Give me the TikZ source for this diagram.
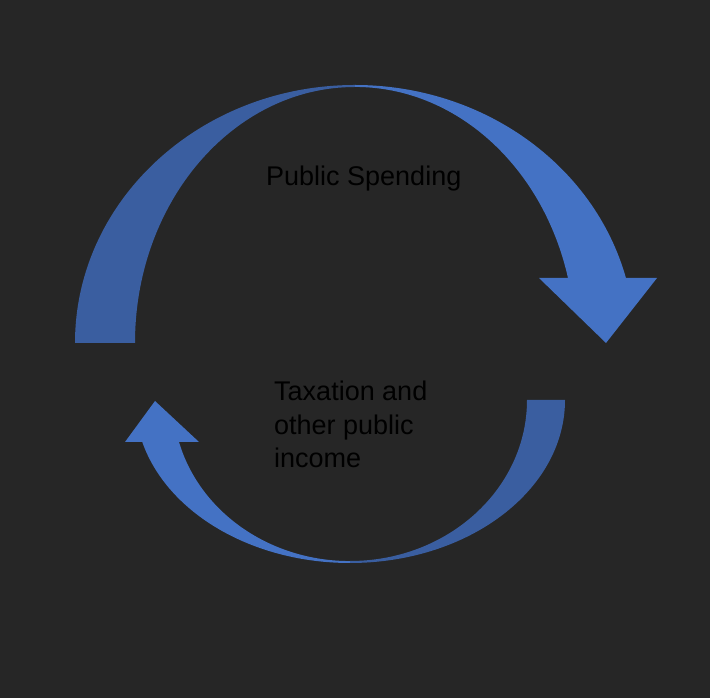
\documentclass[tikz,border=0pt]{standalone}
\usepackage{fontspec}
\setmainfont{Liberation Sans}
\usetikzlibrary{positioning}
\definecolor{bgdark}{RGB}{38,38,38}
\definecolor{bandback}{RGB}{58,94,160}
\definecolor{bandfront}{RGB}{68,114,196}

\begin{document}
\begin{tikzpicture}[x=1pt, y=1pt,
	back/.style={fill=bandback, draw=none},
	front/.style={fill=bandfront, draw=none},
	caption/.style={align=left, inner sep=0pt, text=black, font=\fontsize{27}{33.5}\selectfont}]
	\fill[bgdark] (0,0) rectangle (710,698);
	\useasboundingbox (0,0) rectangle (710,698);
	
	% upper arrow
	\coordinate (top) at (355,355);
	\fill[back] (75,355) arc[start angle=180, end angle=90, x radius=280pt, y radius=258pt]
		-- (355,611) arc[start angle=90, end angle=180, x radius=220pt, y radius=256pt] -- cycle;
	\fill[front] (355,613) arc[start angle=90, end angle=14.6, x radius=280pt, y radius=258pt]
		-- (657,420) -- (606,355) -- (539,420) -- (568,420)
		arc[start angle=14.7, end angle=90, x radius=220pt, y radius=256pt] -- cycle;
	
	% lower arrow
	\coordinate (bottom) at (350,298);
	\fill[back] (565,298) arc[start angle=0, end angle=-90, x radius=215pt, y radius=163pt]
		-- (350,137) arc[start angle=-90, end angle=0, x radius=177pt, y radius=161pt] -- cycle;
	\fill[front] (350,135) arc[start angle=-90, end angle=-165.07, x radius=215pt, y radius=163pt]
		-- (125,256) -- (155,297) -- (199,256) -- (179,256)
		arc[start angle=-164.9, end angle=-90, x radius=177pt, y radius=161pt] -- cycle;
	
	\node[caption, anchor=base west] (spending) at (266,512) {Public Spending};
	\node[caption, anchor=north west] (income) at (274,317) {Taxation and\\other public\\income};
\end{tikzpicture}
\end{document}
